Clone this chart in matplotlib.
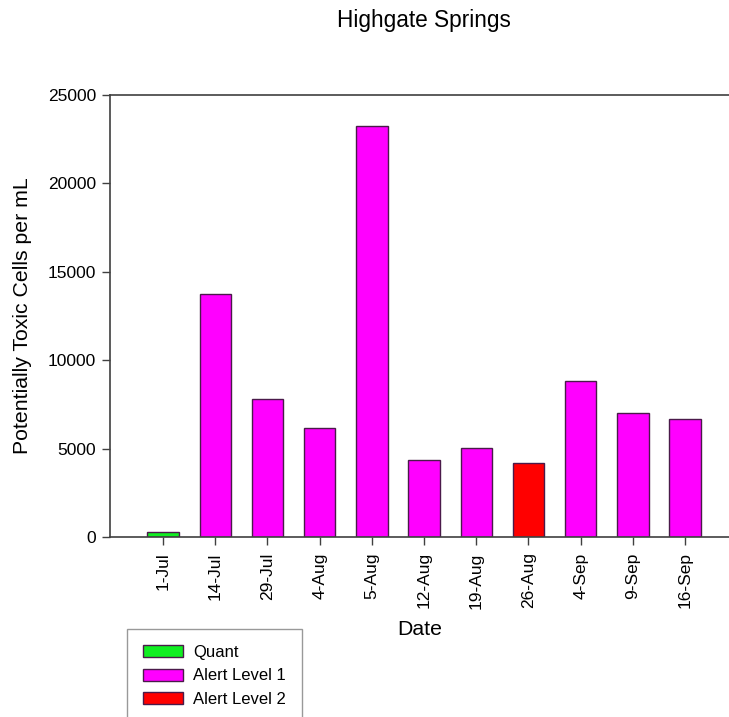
import matplotlib
matplotlib.use("Agg")
import matplotlib.pyplot as plt
from matplotlib.patches import Patch

plt.rcParams['font.family'] = ['Liberation Sans', 'DejaVu Sans']

dates = ["1-Jul", "14-Jul", "29-Jul", "4-Aug", "5-Aug", "12-Aug", "19-Aug",
         "26-Aug", "4-Sep", "9-Sep", "16-Sep"]
cells = [260, 13730, 7800, 6150, 23250, 4330, 5050, 4200, 8820, 7030, 6650]
levels = ["Quant", "Alert Level 1", "Alert Level 1", "Alert Level 1", "Alert Level 1",
          "Alert Level 1", "Alert Level 1", "Alert Level 2", "Alert Level 1",
          "Alert Level 1", "Alert Level 1"]
level_names = ["Quant", "Alert Level 1", "Alert Level 2"]
level_colors = {"Quant": "#11ee22", "Alert Level 1": "#ff00ff", "Alert Level 2": "#ff0000"}

W, H = 729, 717
fig = plt.figure(figsize=(W / 100, H / 100), dpi=100)
ax = fig.add_axes([110 / W, 1 - 537 / H, 1 - 110 / W, (537 - 95) / H])

x = list(range(len(dates)))
ax.bar(x, cells, width=0.6, color=[level_colors[l] for l in levels],
       edgecolor="#4a1a4a", linewidth=1.0, zorder=2)

ax.set_xlim(-1.015, 10.84)
ax.set_ylim(0, 25000)
ax.set_yticks([0, 5000, 10000, 15000, 20000, 25000])
ax.set_xticks(x)
ax.set_xticklabels(dates, rotation=90, fontsize=12.5)
ax.tick_params(axis='y', labelsize=12.5, length=6, width=1, color="#404040", pad=4)
ax.tick_params(axis='x', length=6, width=1, color="#404040", pad=5)

for s in ['left', 'bottom', 'top']:
    ax.spines[s].set_color("#404040")
    ax.spines[s].set_linewidth(1.2)
ax.spines['right'].set_visible(False)

ax.set_ylabel("Potentially Toxic Cells per mL", fontsize=15.3, labelpad=11)
ax.set_xlabel("Date", fontsize=15.3, labelpad=8)
fig.text(424 / W, 1 - 20 / H, "Highgate Springs", ha='center', va='center', fontsize=16.3)

handles = [Patch(facecolor=level_colors[n], edgecolor="#4a1a4a", linewidth=1.0) for n in level_names]
leg = fig.legend(handles, level_names, loc='upper left',
                 bbox_to_anchor=(127 / W, 1 - 629 / H), fontsize=12,
                 frameon=True, fancybox=False, handlelength=2.4, handleheight=0.75,
                 labelspacing=0.52, borderpad=0.95, handletextpad=0.6, borderaxespad=0)
leg.get_frame().set_edgecolor("#808080")
leg.get_frame().set_linewidth(1.0)

fig.savefig("out.png", dpi=100)
